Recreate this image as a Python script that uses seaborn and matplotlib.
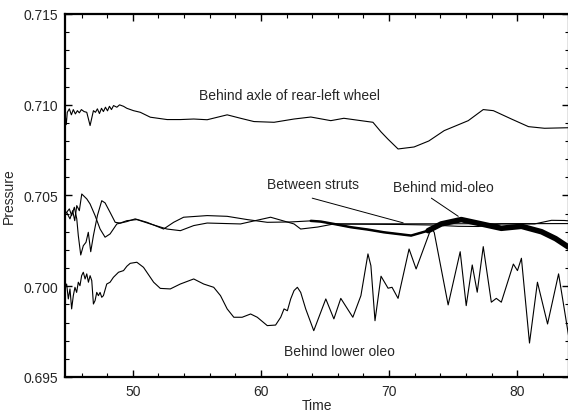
import numpy as np
import matplotlib
matplotlib.use("Agg")
import matplotlib.pyplot as plt
import seaborn as sns
import pandas as pd
from matplotlib.ticker import MultipleLocator

# ---- data ----
rear_t = [44.72, 44.80, 44.88, 45.04, 45.20, 45.35, 45.51, 45.67, 45.82, 45.98,
          46.19, 46.40, 46.66, 46.92, 47.08, 47.23, 47.39, 47.55, 47.70, 47.86,
          48.02, 48.17, 48.33, 48.49, 48.75, 48.96, 49.27, 49.53, 50.05, 50.58,
          51.36, 52.67, 53.71, 54.75, 55.80, 57.36, 58.41, 59.45, 61.02, 62.58,
          63.89, 65.45, 66.47, 67.80, 68.74, 69.37, 69.90, 70.70, 71.95, 73.10,
          74.30, 76.18, 77.35, 78.14, 79.55, 80.88, 82.13, 84.00]
rear_p = [0.70940, 0.70890, 0.70958, 0.70977, 0.70944, 0.70973, 0.70949, 0.70967, 0.70955, 0.70973,
          0.70962, 0.70958, 0.70885, 0.70967, 0.70958, 0.70977, 0.70951, 0.70980, 0.70962, 0.70986,
          0.70966, 0.70991, 0.70973, 0.70995, 0.70986, 0.70999, 0.70991, 0.70980, 0.70967, 0.70958,
          0.70931, 0.70918, 0.70918, 0.70921, 0.70917, 0.70944, 0.70925, 0.70907, 0.70903, 0.70921,
          0.70932, 0.70912, 0.70925, 0.70912, 0.70903, 0.70850, 0.70811, 0.70756, 0.70767, 0.70800,
          0.70857, 0.70912, 0.70973, 0.70967, 0.70921, 0.70879, 0.70870, 0.70873]

mid_t = [44.72, 44.83, 45.09, 45.30, 45.46, 45.62, 45.82, 46.01, 46.40, 46.66,
         47.05, 47.44, 47.83, 48.22, 48.75, 49.53, 50.18, 51.10, 52.40, 53.18,
         53.96, 55.80, 57.36, 58.93, 60.49, 62.32, 63.89, 64.67, 65.69, 67.02,
         68.35, 69.60, 71.72, 73.05, 74.07, 75.63, 77.20, 78.76, 80.33, 81.90,
         83.00, 84.01]
mid_p = [0.70400, 0.70407, 0.70371, 0.70416, 0.70361, 0.70444, 0.70416, 0.70508, 0.70481, 0.70453,
         0.70389, 0.70315, 0.70270, 0.70288, 0.70343, 0.70356, 0.70371, 0.70352, 0.70315, 0.70352,
         0.70380, 0.70389, 0.70385, 0.70367, 0.70352, 0.70354, 0.70360, 0.70356, 0.70343, 0.70325,
         0.70312, 0.70297, 0.70279, 0.70306, 0.70343, 0.70367, 0.70343, 0.70319, 0.70330, 0.70300,
         0.70262, 0.70215]

strut_t = [44.72, 44.83, 45.04, 45.22, 45.43, 45.62, 45.74, 45.93, 46.13, 46.34,
           46.52, 46.71, 46.92, 47.23, 47.57, 47.83, 48.22, 48.62, 49.01, 49.53,
           50.31, 51.36, 52.66, 53.71, 54.75, 55.80, 58.40, 60.75, 62.58, 63.10,
           64.43, 65.69, 84.01]
strut_p = [0.70400, 0.70407, 0.70426, 0.70389, 0.70435, 0.70371, 0.70279, 0.70172, 0.70223, 0.70242,
           0.70297, 0.70190, 0.70279, 0.70389, 0.70471, 0.70459, 0.70407, 0.70352, 0.70348, 0.70361,
           0.70367, 0.70343, 0.70315, 0.70306, 0.70334, 0.70348, 0.70343, 0.70380, 0.70343, 0.70315,
           0.70326, 0.70343, 0.70345]

extra_t = [65.69, 70.93, 73.28, 75.40, 76.96, 78.76, 81.35, 82.68, 83.70, 84.01]
extra_p = [0.70343, 0.70340, 0.70337, 0.70330, 0.70329, 0.70343, 0.70343, 0.70363, 0.70362, 0.70360]

low_t = [44.70, 44.83, 44.96, 45.09, 45.22, 45.35, 45.48, 45.61, 45.74, 45.87,
         46.00, 46.13, 46.27, 46.40, 46.53, 46.66, 46.79, 46.92, 47.05, 47.18,
         47.31, 47.44, 47.57, 47.70, 47.96, 48.22, 48.48, 48.88, 49.27, 49.53,
         49.79, 50.31, 50.83, 51.62, 52.14, 52.92, 53.70, 54.75, 55.53, 56.31,
         56.84, 57.36, 57.88, 58.53, 59.19, 59.71, 60.49, 61.14, 61.54, 61.80,
         62.06, 62.32, 62.58, 62.84, 63.10, 63.49, 64.12, 65.06, 65.69, 66.23,
         67.17, 67.80, 68.35, 68.58, 68.90, 69.37, 69.92, 70.23, 70.70, 71.56,
         72.11, 73.28, 73.52, 74.61, 75.55, 76.02, 76.49, 76.88, 77.35, 77.98,
         78.37, 78.76, 79.70, 80.02, 80.33, 80.96, 81.58, 82.37, 83.23, 84.01]
low_p = [0.69994, 0.70012, 0.69930, 0.69985, 0.69875, 0.69948, 0.69994, 0.69966, 0.70022, 0.70003,
         0.70058, 0.70077, 0.70040, 0.70068, 0.70022, 0.70058, 0.70031, 0.69902, 0.69921, 0.69966,
         0.69948, 0.69966, 0.69939, 0.69948, 0.70012, 0.70022, 0.70049, 0.70077, 0.70086, 0.70110,
         0.70126, 0.70132, 0.70104, 0.70022, 0.69988, 0.69985, 0.70012, 0.70040, 0.70012, 0.69994,
         0.69948, 0.69875, 0.69829, 0.69829, 0.69847, 0.69829, 0.69783, 0.69786, 0.69829, 0.69875,
         0.69865, 0.69930, 0.69976, 0.69994, 0.69966, 0.69875, 0.69755, 0.69930, 0.69820, 0.69933,
         0.69829, 0.69948, 0.70178, 0.70113, 0.69810, 0.70055, 0.69989, 0.69994, 0.69933, 0.70205,
         0.70095, 0.70319, 0.70297, 0.69897, 0.70190, 0.69893, 0.70117, 0.69967, 0.70218, 0.69912,
         0.69933, 0.69912, 0.70122, 0.70086, 0.70154, 0.69687, 0.70022, 0.69792, 0.70068, 0.69728]

# ---- style ----
sns.set_style("ticks")
plt.rcParams['font.family'] = ['Liberation Sans', 'DejaVu Sans']
plt.rcParams['font.size'] = 10

fig = plt.figure(figsize=(5.68, 4.14), dpi=100)
ax = fig.add_axes([0.1144, 0.087, 0.8866, 0.877])

lw = 0.8
sns.lineplot(x=rear_t, y=rear_p, ax=ax, color="black", lw=lw, sort=False)
sns.lineplot(x=strut_t, y=strut_p, ax=ax, color="black", lw=lw, sort=False)
sns.lineplot(x=extra_t, y=extra_p, ax=ax, color="black", lw=lw, sort=False)
sns.lineplot(x=mid_t, y=mid_p, ax=ax, color="black", lw=lw, sort=False)
sns.lineplot(x=low_t, y=low_p, ax=ax, color="black", lw=lw, sort=False)

# mid-oleo trace gets thicker (high-frequency content) toward later times
mid = pd.DataFrame({"t": mid_t, "p": mid_p})
part1 = mid[(mid.t >= 63.89) & (mid.t <= 73.05)]
part2 = mid[mid.t >= 73.05]
sns.lineplot(data=part1, x="t", y="p", ax=ax, color="black", lw=1.8, sort=False)
sns.lineplot(data=part2, x="t", y="p", ax=ax, color="black", lw=4.0, sort=False)

# labels
ax.text(55.2, 0.71054, "Behind axle of rear-left wheel", va="center", ha="left")
ax.text(60.5, 0.70563, "Between struts", va="center", ha="left")
ax.text(70.3, 0.70547, "Behind mid-oleo", va="center", ha="left")
ax.text(61.8, 0.69643, "Behind lower oleo", va="center", ha="left")
ax.plot([64.0, 71.1], [0.70485, 0.70349], color="black", lw=0.7)
ax.plot([73.3, 75.4], [0.70485, 0.70385], color="black", lw=0.7)

ax.set_xlim(44.7, 84.01)
ax.set_ylim(0.695, 0.715)
ax.set_xticks([50, 60, 70, 80])
ax.set_yticks([0.695, 0.700, 0.705, 0.710, 0.715])
ax.set_yticklabels(["0.695", "0.700", "0.705", "0.710", "0.715"])
ax.xaxis.set_minor_locator(MultipleLocator(2))
ax.yaxis.set_minor_locator(MultipleLocator(0.001))
ax.tick_params(which="both", direction="in", top=True, right=True, color="black")
ax.tick_params(which="major", length=5, width=1, pad=5)
ax.tick_params(which="minor", length=3, width=0.8)
for s in ax.spines.values():
    s.set_linewidth(1.6)
    s.set_color("black")
ax.set_xlabel("Time", labelpad=0)
ax.set_ylabel("Pressure", labelpad=5)

fig.savefig("out.png", dpi=100)
